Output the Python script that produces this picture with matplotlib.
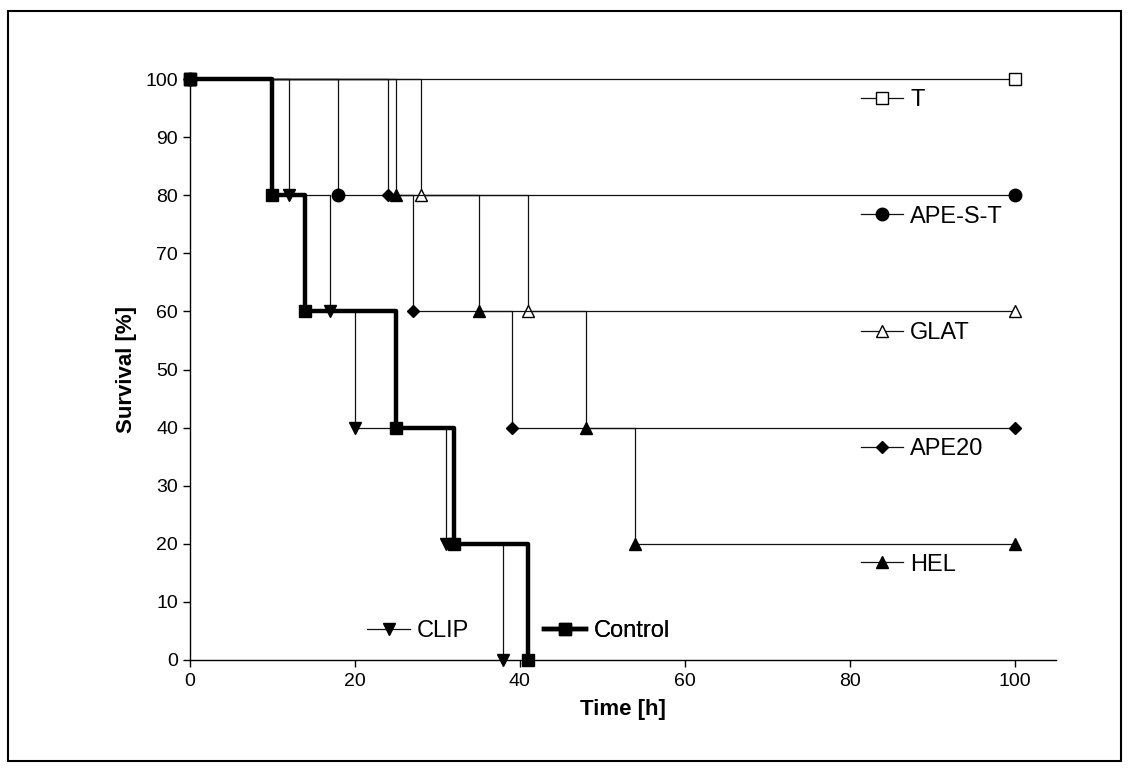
import matplotlib
matplotlib.use('Agg')
import matplotlib.pyplot as plt
from matplotlib.patches import Rectangle

plt.rcParams['font.family'] = ['Liberation Sans', 'DejaVu Sans']

# Kaplan-Meier style survival data (time in h, survival in %)
t_time = [0, 100]
t_surv = [100, 100]
apest_time = [0, 18, 100]
apest_surv = [100, 80, 80]
glat_time = [0, 28, 41, 100]
glat_surv = [100, 80, 60, 60]
ape20_time = [0, 24, 27, 39, 100]
ape20_surv = [100, 80, 60, 40, 40]
hel_time = [0, 25, 35, 48, 54, 100]
hel_surv = [100, 80, 60, 40, 20, 20]
clip_time = [0, 12, 17, 20, 31, 38]
clip_surv = [100, 80, 60, 40, 20, 0]
control_time = [0, 10, 14, 25, 32, 41]
control_surv = [100, 80, 60, 40, 20, 0]

x_ticks = [0, 20, 40, 60, 80, 100]
y_ticks = [0, 10, 20, 30, 40, 50, 60, 70, 80, 90, 100]

W, H = 1130, 771
fig = plt.figure(figsize=(W / 100, H / 100), dpi=100)
ax = fig.add_axes([190 / W, 1 - 660 / H, (1056 - 190) / W, (660 - 79) / H])

# outer frame round the whole picture
fig.add_artist(Rectangle((8 / W, 1 - 761 / H), (1121 - 8) / W, (761 - 10.5) / H,
                         transform=fig.transFigure, fill=False, edgecolor='black', lw=1.5))

thin = dict(color='#111111', lw=0.9, drawstyle='steps-post', clip_on=False)
series = [
    # label, times, survival, style, legend position (x, y in data units)
    ('T', t_time, t_surv, dict(marker='s', ms=8.6, mfc='white', mec='black', mew=1.0), (81.3, 96.3)),
    ('APE-S-T', apest_time, apest_surv, dict(marker='o', ms=9, mfc='black', mec='black'), (81.3, 76.3)),
    ('GLAT', glat_time, glat_surv, dict(marker='^', ms=8.6, mfc='white', mec='black', mew=1.0), (81.3, 56.3)),
    ('APE20', ape20_time, ape20_surv, dict(marker='D', ms=6.2, mfc='black', mec='black'), (81.3, 36.3)),
    ('HEL', hel_time, hel_surv, dict(marker='^', ms=8.6, mfc='black', mec='black'), (81.3, 16.4)),
    ('CLIP', clip_time, clip_surv, dict(marker='v', ms=8.6, mfc='black', mec='black'), (21.5, 5.0)),
]

for label, tt, ss, style, pos in series:
    line, = ax.plot(tt, ss, **thin, **style)
    leg = ax.legend([line], [label], loc='center left', bbox_to_anchor=pos,
                    bbox_transform=ax.transData, frameon=False, fontsize=17,
                    numpoints=1, handlelength=1.8, handletextpad=0.3,
                    borderpad=0, borderaxespad=0)
    ax.add_artist(leg)

# control drawn last and thick
ctrl, = ax.plot(control_time, control_surv, color='black', lw=3.2, drawstyle='steps-post',
                marker='s', ms=8.6, mfc='black', mec='black', clip_on=False, zorder=3)
leg = ax.legend([ctrl], ['Control'], loc='center left', bbox_to_anchor=(42.9, 5.0),
                bbox_transform=ax.transData, frameon=False, fontsize=17,
                numpoints=1, handlelength=1.8, handletextpad=0.3,
                borderpad=0, borderaxespad=0)
ax.add_artist(leg)

ax.set_xlim(0, 105)
ax.set_ylim(0, 100)
ax.set_xticks(x_ticks)
ax.set_yticks(y_ticks)
ax.spines['top'].set_visible(False)
ax.spines['right'].set_visible(False)
for sp in ('left', 'bottom'):
    ax.spines[sp].set_linewidth(1.0)
ax.tick_params(axis='both', direction='out', length=5, width=1.0, labelsize=14, colors='black')
ax.tick_params(axis='x', pad=4.5)
ax.tick_params(axis='y', pad=3.5)

ax.set_xlabel('Time [h]', fontsize=16, fontweight='bold', labelpad=6)
ax.set_ylabel('Survival [%]', fontsize=16, fontweight='bold', labelpad=6)

fig.savefig('out.png', dpi=100)
